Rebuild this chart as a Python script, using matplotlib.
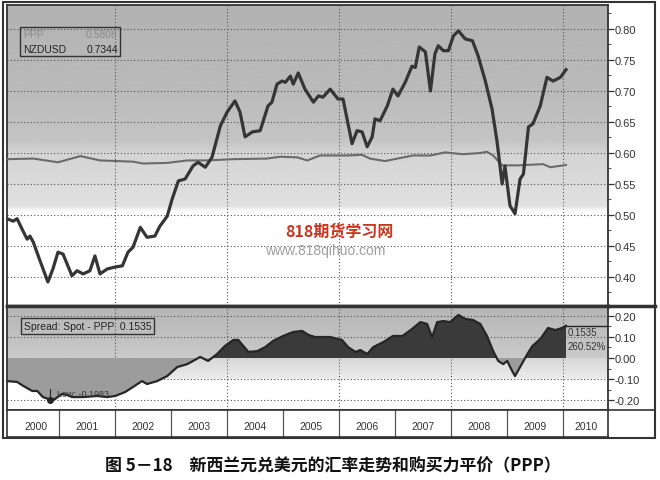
import numpy as np
import matplotlib
matplotlib.use("Agg")
import matplotlib.pyplot as plt
from matplotlib.patches import Rectangle
from matplotlib.lines import Line2D

plt.rcParams['font.family'] = ['Liberation Sans', 'Noto Sans CJK SC', 'DejaVu Sans']

# NZDUSD spot
spot_years = [2000.07, 2000.18, 2000.25, 2000.34, 2000.43, 2000.48, 2000.54, 2000.66, 2000.80, 2000.89,
              2000.98, 2001.07, 2001.23, 2001.32, 2001.43, 2001.55, 2001.64, 2001.73, 2001.86, 2002.00,
              2002.13, 2002.23, 2002.32, 2002.45, 2002.57, 2002.71, 2002.80, 2002.93, 2003.02, 2003.13,
              2003.25, 2003.39, 2003.48, 2003.61, 2003.73, 2003.88, 2004.00, 2004.14, 2004.23, 2004.32,
              2004.45, 2004.59, 2004.73, 2004.80, 2004.89, 2004.98, 2005.04, 2005.13, 2005.18, 2005.27,
              2005.39, 2005.54, 2005.63, 2005.71, 2005.84, 2005.98, 2006.07, 2006.23, 2006.32, 2006.41,
              2006.50, 2006.59, 2006.64, 2006.73, 2006.86, 2006.96, 2007.05, 2007.18, 2007.30, 2007.36,
              2007.43, 2007.54, 2007.63, 2007.71, 2007.77, 2007.86, 2007.95, 2008.04, 2008.13, 2008.25,
              2008.38, 2008.48, 2008.61, 2008.73, 2008.82, 2008.91, 2008.96, 2009.05, 2009.14, 2009.23,
              2009.29, 2009.38, 2009.46, 2009.59, 2009.71, 2009.82, 2009.95, 2010.05]
spot = [0.494, 0.490, 0.494, 0.477, 0.461, 0.466, 0.456, 0.426, 0.392, 0.413,
        0.440, 0.437, 0.402, 0.410, 0.405, 0.410, 0.434, 0.405, 0.413, 0.416,
        0.418, 0.440, 0.448, 0.480, 0.464, 0.466, 0.482, 0.498, 0.526, 0.555,
        0.558, 0.579, 0.585, 0.577, 0.593, 0.644, 0.666, 0.684, 0.666, 0.626,
        0.634, 0.636, 0.676, 0.682, 0.711, 0.716, 0.714, 0.724, 0.711, 0.729,
        0.703, 0.682, 0.692, 0.690, 0.703, 0.687, 0.687, 0.615, 0.636, 0.634,
        0.610, 0.626, 0.655, 0.652, 0.676, 0.703, 0.692, 0.714, 0.740, 0.738,
        0.771, 0.763, 0.700, 0.760, 0.773, 0.765, 0.765, 0.789, 0.797, 0.784,
        0.781, 0.757, 0.716, 0.671, 0.618, 0.550, 0.579, 0.515, 0.502, 0.558,
        0.566, 0.642, 0.647, 0.676, 0.722, 0.716, 0.722, 0.7344]

# purchasing power parity
ppp_years = [2000.07, 2000.54, 2000.98, 2001.38, 2001.73, 2002.32, 2002.50, 2002.93, 2003.29, 2003.64,
             2004.11, 2004.71, 2004.95, 2005.25, 2005.43, 2005.66, 2006.14, 2006.41, 2006.55, 2006.82,
             2007.04, 2007.32, 2007.63, 2007.89, 2008.21, 2008.52, 2008.64, 2008.75, 2008.91, 2009.18,
             2009.41, 2009.64, 2009.77, 2010.00, 2010.05]
ppp = [0.590, 0.591, 0.585, 0.595, 0.588, 0.586, 0.583, 0.584, 0.588, 0.588,
       0.590, 0.591, 0.594, 0.593, 0.588, 0.596, 0.596, 0.597, 0.591, 0.587,
       0.591, 0.596, 0.596, 0.601, 0.598, 0.600, 0.602, 0.596, 0.580, 0.580,
       0.581, 0.582, 0.577, 0.580, 0.5808]

# spread: spot - PPP
spread_years = [2000.07, 2000.25, 2000.36, 2000.52, 2000.61, 2000.71, 2000.84, 2000.93, 2001.05, 2001.14,
                2001.23, 2001.43, 2001.68, 2001.86, 2002.00, 2002.18, 2002.32, 2002.48, 2002.57, 2002.75,
                2002.93, 2003.11, 2003.29, 2003.52, 2003.66, 2003.82, 2003.96, 2004.11, 2004.20, 2004.29,
                2004.38, 2004.54, 2004.68, 2004.82, 2005.00, 2005.18, 2005.34, 2005.45, 2005.57, 2005.84,
                2006.05, 2006.16, 2006.29, 2006.38, 2006.50, 2006.61, 2006.79, 2006.96, 2007.13, 2007.30,
                2007.45, 2007.57, 2007.66, 2007.75, 2007.86, 2007.98, 2008.13, 2008.25, 2008.39, 2008.52,
                2008.64, 2008.75, 2008.84, 2008.93, 2009.00, 2009.09, 2009.14, 2009.23, 2009.36, 2009.45,
                2009.59, 2009.73, 2009.86, 2009.98, 2010.05]
spread = [-0.110, -0.114, -0.133, -0.157, -0.157, -0.186, -0.198, -0.195, -0.171, -0.176,
          -0.186, -0.186, -0.181, -0.186, -0.181, -0.162, -0.138, -0.110, -0.124, -0.110,
          -0.086, -0.043, -0.029, 0.005, -0.014, 0.019, 0.057, 0.086, 0.086, 0.057,
          0.029, 0.033, 0.052, 0.081, 0.105, 0.124, 0.129, 0.110, 0.100, 0.100,
          0.086, 0.052, 0.029, 0.038, 0.019, 0.052, 0.076, 0.105, 0.105, 0.138,
          0.171, 0.162, 0.100, 0.171, 0.176, 0.171, 0.205, 0.186, 0.181, 0.162,
          0.105, 0.033, -0.014, -0.029, -0.014, -0.062, -0.086, -0.043, 0.019, 0.057,
          0.090, 0.143, 0.133, 0.143, 0.1535]

year_labels = ['2000', '2001', '2002', '2003', '2004', '2005', '2006', '2007', '2008', '2009', '2010']
low_year, low_value = 2000.84, -0.1983

W, H = 660, 481
XMIN, XMAX = 2000.07, 2010.80


def px_axes(x0, y0, x1, y1):
    return fig.add_axes([x0 / W, 1 - y1 / H, (x1 - x0) / W, (y1 - y0) / H])


def background(ax, ylim, stops, levels):
    yy = np.linspace(ylim[0], ylim[1], 400)
    shade = np.interp(yy, stops, levels)
    ax.imshow(np.tile(shade[:, None], (1, 2)), extent=[XMIN, XMAX, ylim[0], ylim[1]],
              origin='lower', aspect='auto', cmap='gray', vmin=0, vmax=1, zorder=0)


fig = plt.figure(figsize=(W / 100, H / 100), dpi=100)
grid_kw = dict(color='#555555', linestyle=(0, (1, 2)), linewidth=0.8, zorder=1)

# ---- top panel: NZDUSD vs PPP
ax1 = px_axes(7, 6, 608, 307)
ylim1 = (0.3532, 0.8387)
background(ax1, ylim1, [0.3532, 0.505, 0.515, 0.55, 0.60, 0.62, 0.70, 0.8387],
           [1.0, 1.0, 0.88, 0.86, 0.83, 0.77, 0.73, 0.70])
for v in np.arange(0.40, 0.801, 0.05):
    ax1.axhline(v, **grid_kw)
for yr in range(2002, 2011, 2):
    ax1.axvline(yr, **grid_kw)
ax1.plot(ppp_years, ppp, color='#6a6a6a', lw=1.5, zorder=3)
ax1.plot(spot_years, spot, color='#353535', lw=2.3, zorder=4)
ax1.set_xlim(XMIN, XMAX)
ax1.set_ylim(*ylim1)
ax1.set_xticks([])
ax1.yaxis.tick_right()
ax1.set_yticks(np.arange(0.40, 0.801, 0.05))
ax1.set_yticks(np.arange(0.375, 0.84, 0.025), minor=True)
ax1.set_yticklabels([f'{v:.2f}' for v in np.arange(0.40, 0.801, 0.05)])

ax1.add_patch(Rectangle(((20 - 7) / 601, (307 - 57) / 301), 100 / 601, 29 / 301,
                        transform=ax1.transAxes, fill=False, ec='#333333', lw=1.0, zorder=5))
ax1.text((23 - 7) / 601, (307 - 35) / 301, 'PPP', transform=ax1.transAxes, fontsize=7.5,
         color='#8a8a8a', va='center', zorder=6)
ax1.text((118 - 7) / 601, (307 - 35) / 301, f'{ppp[-1]:.4f}', transform=ax1.transAxes, fontsize=7.5,
         color='#8a8a8a', va='center', ha='right', zorder=6)
ax1.text((23 - 7) / 601, (307 - 50) / 301, 'NZDUSD', transform=ax1.transAxes, fontsize=7.5,
         color='#222222', va='center', zorder=6)
ax1.text((118 - 7) / 601, (307 - 50) / 301, f'{spot[-1]:.4f}', transform=ax1.transAxes, fontsize=7.5,
         color='#222222', va='center', ha='right', zorder=6)

# ---- bottom panel: spread
ax2 = px_axes(7, 307, 608, 411)
ylim2 = (-0.2476, 0.2476)
background(ax2, ylim2, [-0.2476, -0.105, -0.095, 0.0, 0.001, 0.2476],
           [1.0, 1.0, 0.92, 0.84, 0.79, 0.71])
for v in [-0.2, -0.1, 0.1, 0.2]:
    ax2.axhline(v, **grid_kw)
for yr in range(2002, 2011, 2):
    ax2.axvline(yr, **grid_kw)
sy = np.array(spread_years)
sv = np.array(spread)
ax2.fill_between(sy, sv, 0, where=sv >= 0, interpolate=True, color='#3a3a3a', lw=0, zorder=2)
ax2.fill_between(sy, sv, 0, where=sv <= 0, interpolate=True, color='#9c9c9c', lw=0, zorder=2)
ax2.plot(sy, sv, color='#262626', lw=1.6, zorder=4)
ax2.plot([sy[-1], XMAX], [sv[-1], sv[-1]], color='#262626', lw=1.0, zorder=4)
ax2.plot([low_year], [low_value], 'o', color='#262626', ms=4, zorder=5)
ax2.plot([low_year, low_year], [low_value, low_value + 0.05], color='#262626', lw=0.8, zorder=5)
ax2.text(low_year + 0.13, low_value + 0.03, f'Low: {low_value:.4f}', fontsize=6.5, color='#333333',
         va='center', zorder=6)
ax2.text(sy[-1] + 0.03, 0.122, f'{sv[-1]:.4f}', fontsize=7, color='#333333', va='center', zorder=6)
ax2.text(sy[-1] + 0.03, 0.055, '260.52%', fontsize=7, color='#333333', va='center', zorder=6)
ax2.text((24 - 7) / 601, (411 - 327) / 104, f'Spread: Spot - PPP  {sv[-1]:.4f}', transform=ax2.transAxes,
         fontsize=7.5, color='#222222', va='center', zorder=6,
         bbox=dict(boxstyle='square,pad=0.25', fc='none', ec='#333333', lw=1.0))
ax2.set_xlim(XMIN, XMAX)
ax2.set_ylim(*ylim2)
ax2.set_xticks([])
ax2.yaxis.tick_right()
ax2.set_yticks([0.2, 0.1, 0.0, -0.1, -0.2])
ax2.set_yticks(np.arange(-0.15, 0.2, 0.1), minor=True)
ax2.set_yticklabels(['0.20', '0.10', '0.00', '-0.10', '-0.20'])

for ax in (ax1, ax2):
    ax.tick_params(axis='y', which='major', direction='out', length=4, width=0.9,
                   color='#333333', labelsize=8, labelcolor='#333333', pad=1)
    ax.tick_params(axis='y', which='minor', direction='out', length=2, width=0.8, color='#555555')
    for s in ax.spines.values():
        s.set_color('#333333')
        s.set_linewidth(1.3)
ax1.spines['bottom'].set_linewidth(2.5)
ax2.spines['top'].set_linewidth(2.5)

# ---- year row
ax3 = px_axes(7, 411, 608, 438)
ax3.set_xlim(XMIN, XMAX)
ax3.set_ylim(0, 1)
ax3.set_xticks([])
ax3.set_yticks([])
for yr in range(2001, 2011):
    ax3.axvline(yr, color='#555555', lw=0.9)
centers = [(XMIN + 2001) / 2 + 0.05] + [y + 0.5 for y in range(2001, 2010)] + [(2010 + XMAX) / 2]
for c, lab in zip(centers, year_labels):
    ax3.text(c, 0.42, lab, ha='center', va='center', fontsize=7.5, color='#333333')
for s in ax3.spines.values():
    s.set_color('#333333')
    s.set_linewidth(1.2)

# ---- frame around everything
fig.add_artist(Rectangle((3 / W, 1 - 439 / H), 652 / W, 436 / H, transform=fig.transFigure,
                         fill=False, ec='#333333', lw=1.5))
fig.add_artist(Line2D([608 / W, 655 / W], [1 - 307 / H] * 2, transform=fig.transFigure,
                      color='#333333', lw=2.5))
fig.add_artist(Line2D([608 / W, 655 / W], [1 - 411 / H] * 2, transform=fig.transFigure,
                      color='#333333', lw=1.2))

# watermark
fig.text(285 / W, 1 - 232 / H, '818期货学习网', fontsize=11.5, color='#c8371e', weight='bold',
         va='center', family=['Noto Sans CJK SC', 'DejaVu Sans'])
fig.text(265 / W, 1 - 251 / H, 'www.818qihuo.com', fontsize=10, color='#a0a0a0', va='center')

# caption
fig.text(333 / W, 1 - 466 / H, '图 5－18　新西兰元兑美元的汇率走势和购买力平价（PPP）', ha='center',
         va='center', fontsize=12.2, weight='bold', color='#111111',
         family=['Noto Sans CJK SC', 'DejaVu Sans'])

fig.savefig('out.png', dpi=100)
